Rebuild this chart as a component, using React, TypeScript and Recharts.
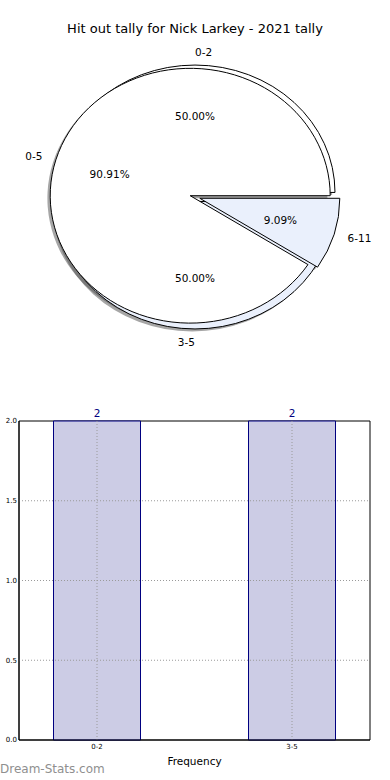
import {
  PieChart,
  Pie,
  Sector,
  BarChart,
  Bar,
  XAxis,
  YAxis,
  LabelList,
  ReferenceArea,
  ReferenceLine,
} from 'recharts';

const title = 'Hit out tally for Nick Larkey - 2021 tally';

// pie: outer ring (0-2 / 3-5) and inner split (0-5 / 6-11)
const outerNames = ['0-2', '3-5'];
const outerValues = [2, 2];
const outerColors = ['#ffffff', '#eaf0fc'];
const innerNames = ['0-5', '6-11'];
const innerValues = [10, 1];
const innerColors = ['#ffffff', '#eaf0fc'];

// bar chart
const barCategories = ['0-2', '3-5'];
const barValues = [2, 2];
const yTicks = [0, 0.5, 1, 1.5, 2];

const PIE_CX = 195;
const PIE_CY = 197;
const PIE_R = 140;
const SQUASH = 0.91;
const EXPLODE = 5;
const SHADOW_DX = -2.8;
const SHADOW_DY = 2.5;
const RAD = Math.PI / 180;

const X_DOMAIN = [-0.4, 1.4];
const Y_DOMAIN = [0, 2];

const outerData = outerNames.map((name, i) => ({ name, value: outerValues[i], fill: outerColors[i] }));
const innerData = innerNames.map((name, i) => ({ name, value: innerValues[i], fill: innerColors[i] }));
const barData = barCategories.map((name, i) => ({ x: i, name, value: barValues[i] }));
const xTicks = barCategories.map((_, i) => i);

const FONT = '"DejaVu Sans", sans-serif';

function makeShape(shadow: boolean) {
  return (props: any) => {
    const { cx, cy, midAngle, outerRadius, startAngle, endAngle, fill } = props;
    const dx = EXPLODE * Math.cos(-midAngle * RAD) + (shadow ? SHADOW_DX : 0);
    const dy = EXPLODE * Math.sin(-midAngle * RAD) * SQUASH + (shadow ? SHADOW_DY : 0);
    return (
      <g transform={`translate(${cx + dx} ${cy + dy}) scale(1 ${SQUASH}) translate(${-cx} ${-cy})`}>
        <Sector
          cx={cx}
          cy={cy}
          innerRadius={0}
          outerRadius={outerRadius}
          startAngle={startAngle}
          endAngle={endAngle}
          fill={shadow ? '#4d4d4d' : fill}
          fillOpacity={shadow ? 0.5 : 1}
          stroke={shadow ? 'none' : '#000'}
          strokeWidth={shadow ? 0 : 1}
          vectorEffect="non-scaling-stroke"
        />
      </g>
    );
  };
}

const renderLabels = (props: any) => {
  const { cx, cy, midAngle, outerRadius, percent, name } = props;
  const cos = Math.cos(-midAngle * RAD);
  const sin = Math.sin(-midAngle * RAD);
  const ox = cx + EXPLODE * cos;
  const oy = cy + EXPLODE * sin * SQUASH;
  return (
    <g>
      <text
        x={ox + 1.1 * outerRadius * cos}
        y={oy + 1.1 * outerRadius * sin * SQUASH}
        textAnchor={cos > 0 ? 'start' : 'end'}
        dominantBaseline="central"
        fontSize={10.5}
        fill="#000"
      >
        {name}
      </text>
      <text
        x={ox + 0.6 * outerRadius * cos}
        y={oy + 0.6 * outerRadius * sin * SQUASH}
        textAnchor="middle"
        dominantBaseline="central"
        fontSize={10.5}
        fill="#000"
      >
        {(percent * 100).toFixed(2)}%
      </text>
    </g>
  );
};

const noShape = () => <g />;

export default function App() {
  const pieCommon = {
    dataKey: 'value',
    nameKey: 'name',
    cx: PIE_CX,
    cy: PIE_CY,
    outerRadius: PIE_R,
    startAngle: 0,
    endAngle: 360,
    isAnimationActive: false,
    labelLine: false,
  };

  return (
    <div
      style={{
        position: 'absolute',
        left: 0,
        top: 0,
        width: 390,
        height: 780,
        background: '#fff',
        fontFamily: FONT,
        overflow: 'hidden',
      }}
    >
      <div
        style={{
          position: 'absolute',
          top: 21,
          left: 0,
          width: 390,
          textAlign: 'center',
          fontSize: 13,
          color: '#000',
        }}
      >
        {title}
      </div>

      <div style={{ position: 'absolute', left: 0, top: 0 }}>
        <PieChart width={390} height={380} margin={{ top: 0, right: 0, bottom: 0, left: 0 }}>
          <Pie {...pieCommon} data={outerData} shape={makeShape(true)} stroke="none" />
          <Pie {...pieCommon} data={innerData} shape={makeShape(true)} stroke="none" />
          <Pie {...pieCommon} data={outerData} shape={makeShape(false)} stroke="#000" />
          <Pie {...pieCommon} data={innerData} shape={makeShape(false)} stroke="#000" label={renderLabels} />
          <Pie {...pieCommon} data={outerData} shape={noShape} fill="none" stroke="none" label={renderLabels} />
        </PieChart>
      </div>

      <div style={{ position: 'absolute', left: 0, top: 400 }}>
        <BarChart width={390} height={380} data={barData} margin={{ top: 21, right: 20, bottom: 0, left: 0 }}>
          <XAxis
            dataKey="x"
            type="number"
            domain={X_DOMAIN}
            ticks={xTicks}
            tickFormatter={(v: number) => barCategories[v]}
            allowDataOverflow
            height={40}
            tick={{ fontSize: 7, fill: '#000' }}
            tickLine={false}
            tickSize={0}
            tickMargin={4}
            axisLine={{ stroke: '#000' }}
            label={{ value: 'Frequency', position: 'insideBottom', offset: 15, fontSize: 10.5, fill: '#000' }}
          />
          <YAxis
            type="number"
            domain={Y_DOMAIN}
            ticks={yTicks}
            tickFormatter={(v: number) => v.toFixed(1)}
            width={19}
            tick={{ fontSize: 7, fill: '#000' }}
            tickLine={false}
            tickSize={0}
            tickMargin={2}
            axisLine={{ stroke: '#000' }}
          />
          <Bar dataKey="value" fill="#ccccE5" stroke="#000080" strokeWidth={1} barSize={87} isAnimationActive={false}>
            <LabelList dataKey="value" position="top" fill="#000080" fontSize={10.5} offset={4} />
          </Bar>
          {xTicks.map((t) => (
            <ReferenceLine key={`vx${t}`} x={t} stroke="#9a9a9a" strokeDasharray="1 2" />
          ))}
          {yTicks
            .filter((t) => t > Y_DOMAIN[0] && t < Y_DOMAIN[1])
            .map((t) => (
              <ReferenceLine key={`hy${t}`} y={t} stroke="#9a9a9a" strokeDasharray="1 2" />
            ))}
          <ReferenceArea
            x1={X_DOMAIN[0]}
            x2={X_DOMAIN[1]}
            y1={Y_DOMAIN[0]}
            y2={Y_DOMAIN[1]}
            fill="none"
            stroke="#000"
            ifOverflow="visible"
          />
        </BarChart>
      </div>

      <div
        style={{
          position: 'absolute',
          left: 0,
          top: 762,
          fontSize: 12,
          color: '#8f8f8f',
        }}
      >
        Dream-Stats.com
      </div>
    </div>
  );
}
